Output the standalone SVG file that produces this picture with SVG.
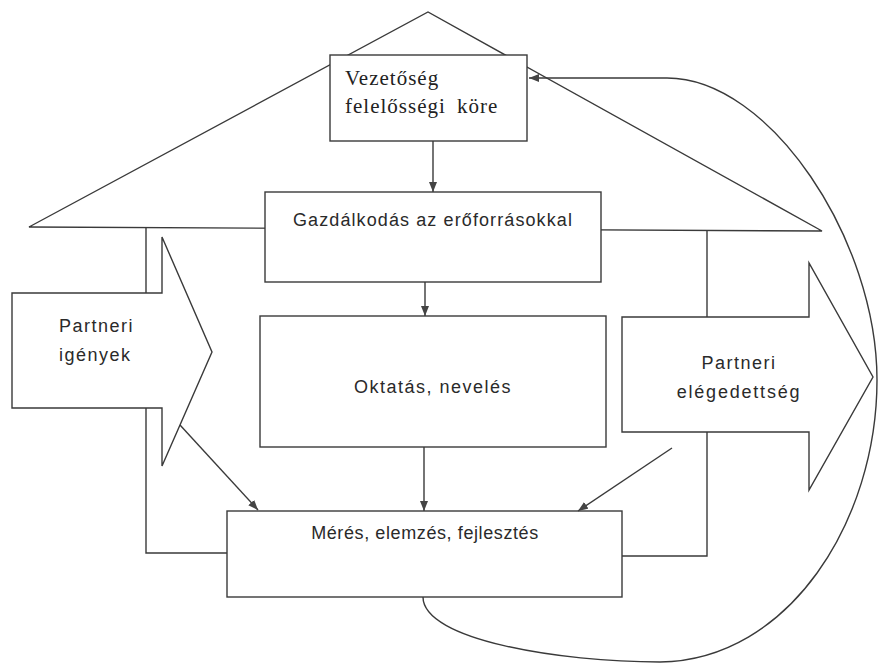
<svg xmlns="http://www.w3.org/2000/svg" width="879" height="663" viewBox="0 0 879 663">
<style>
.ln{fill:none;stroke:#3a3a3a;stroke-width:1.4}
.bx{fill:#fff;stroke:#3a3a3a;stroke-width:1.4}
.t{font-family:"Liberation Sans",Arial,sans-serif;font-size:18px;fill:#2a2a2a;letter-spacing:1.5px}
.s{font-family:"Liberation Serif","Times New Roman",serif;font-size:21px;fill:#222;letter-spacing:1px}
</style>
<defs>
<marker id="ah" viewBox="0 0 10 8" refX="10" refY="4" markerWidth="10" markerHeight="8" markerUnits="userSpaceOnUse" orient="auto">
<path d="M0,0 L10,4 L0,8 z" fill="#444"/>
</marker>
</defs>
<rect width="879" height="663" fill="#fff"/>
<g id="roof">
<polygon class="ln" points="29,227 428,12 822,231"/>
</g>
<g id="vezetoseg">
<rect class="bx" x="330" y="55" width="197" height="86"/>
<text class="s" x="345" y="85">Vezetőség</text>
<text class="s" x="345" y="113" word-spacing="5">felelősségi köre</text>
</g>
<g id="gazdalkodas">
<rect class="bx" x="265" y="192" width="336" height="90"/>
<text class="t" x="433" y="226" text-anchor="middle" style="letter-spacing:1.1px">Gazdálkodás az erőforrásokkal</text>
</g>
<g id="oktatas">
<rect class="bx" x="260" y="316" width="346" height="131"/>
<text class="t" x="433" y="393" text-anchor="middle">Oktatás, nevelés</text>
</g>
<g id="meres">
<rect class="bx" x="227" y="511" width="395" height="86"/>
<text class="t" x="425" y="539" text-anchor="middle" style="letter-spacing:0.6px">Mérés, elemzés, fejlesztés</text>
</g>
<g id="partneri-igenyek">
<polygon class="bx" points="12,293 162,293 162,237 212,352 162,466 162,408 12,408"/>
<text class="t" x="59" y="332">Partneri</text>
<text class="t" x="59" y="361">igények</text>
</g>
<g id="partneri-elegedettseg">
<polygon class="bx" points="622,317 809,317 809,263 873,377 809,490 809,432 622,432"/>
<text class="t" x="739" y="369" text-anchor="middle">Partneri</text>
<text class="t" x="739" y="398" text-anchor="middle" style="letter-spacing:1.8px">elégedettség</text>
</g>
<g id="connectors">
<line class="ln" x1="146" y1="227" x2="146" y2="293"/>
<polyline class="ln" points="146,408 146,553 227,553"/>
<line class="ln" x1="707" y1="231" x2="707" y2="317"/>
<polyline class="ln" points="707,432 707,556 622,556"/>
<line class="ln" x1="433" y1="141" x2="433" y2="192" marker-end="url(#ah)"/>
<line class="ln" x1="425" y1="282" x2="425" y2="316" marker-end="url(#ah)"/>
<line class="ln" x1="424" y1="447" x2="424" y2="511" marker-end="url(#ah)"/>
<line class="ln" x1="180" y1="425" x2="258" y2="510" marker-end="url(#ah)"/>
<line class="ln" x1="672" y1="448" x2="578" y2="511" marker-end="url(#ah)"/>
<path class="ln" d="M423,597 C423,640 560,662 660,662 C790,660 877,520 877,380 C877,240 770,78 667,78 L529,78" marker-end="url(#ah)"/>
</g>
</svg>
